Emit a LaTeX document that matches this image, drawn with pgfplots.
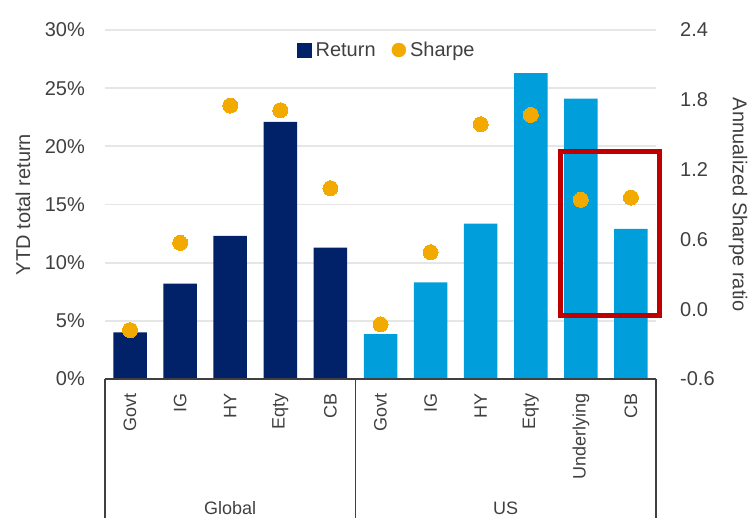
\documentclass[border=0pt]{standalone}
\usepackage{fontspec}
\setmainfont{Liberation Sans}
\usepackage{pgfplots}
\pgfplotsset{compat=1.18}
\definecolor{navy}{HTML}{012169}
\definecolor{lblue}{HTML}{009EDB}
\definecolor{gold}{HTML}{F2A900}
\definecolor{boxred}{HTML}{C00000}
\definecolor{txt}{HTML}{404040}
\definecolor{gridc}{HTML}{E6E6E6}
\newcommand{\fA}{\fontsize{20pt}{24pt}\selectfont}
\newcommand{\fB}{\fontsize{18pt}{22pt}\selectfont}
\begin{document}
\begin{tikzpicture}
\useasboundingbox (0pt,0pt) rectangle (750pt,518pt);
\begin{axis}[
  at={(105pt,139pt)}, anchor=south west,
  scale only axis, width=551pt, height=349pt,
  xmin=-0.5, xmax=10.5, ymin=0, ymax=30,
  axis line style={draw=none},
  major tick length=0pt,
  clip=false,
  /pgf/number format/assume math mode=true,
  ytick={0,5,10,15,20,25,30},
  yticklabel={\pgfmathprintnumber{\tick}\%},
  yticklabel style={anchor=east, inner sep=0pt, xshift=-20pt, font=\fA, text=txt},
  ymajorgrids, grid style={gridc, line width=1.8pt},
  xtick={0,1,2,3,4,5,6,7,8,9,10},
  xticklabels={Govt,IG,HY,Eqty,CB,Govt,IG,HY,Eqty,Underlying,CB},
  xticklabel style={rotate=90, anchor=east, inner xsep=0pt, inner ysep=0pt, xshift=-14pt, font=\fB, text=txt},
  ylabel={YTD total return},
  ylabel style={at={(axis description cs:-0.1488,0.5)}, anchor=center, font=\fA, text=txt},
  legend columns=2,
  legend style={at={(axis description cs:0.3485,0.9427)}, anchor=west, draw=none, fill=none,
    inner sep=0pt, font=\fA, text=txt,
    nodes={inner xsep=4pt, inner ysep=0pt},
    /tikz/every even column/.append style={column sep=12pt}},
]
\addplot[ybar, bar width=33.5pt, bar shift=0pt, fill=navy, draw=none, forget plot]
  coordinates {(0,4.0) (1,8.2) (2,12.3) (3,22.1) (4,11.3)};
\addplot[ybar, bar width=33.5pt, bar shift=0pt, fill=lblue, draw=none, forget plot]
  coordinates {(5,3.85) (6,8.3) (7,13.35) (8,26.3) (9,24.1) (10,12.9)};
\addlegendimage{legend image code/.code={\fill[navy] (0pt,-7pt) rectangle (14pt,7pt);}}
\addlegendentry{Return}
\addlegendimage{legend image code/.code={\fill[gold] (7pt,0pt) circle (7pt);}}
\addlegendentry{Sharpe}
\draw[txt, line width=1.5pt] (axis cs:-0.5,0) -- (axis cs:10.5,0);
\draw[txt, line width=1.3pt] (axis cs:-0.5,0) -- (axis cs:-0.5,-13);
\draw[txt, line width=1.3pt] (axis cs:4.5,0) -- (axis cs:4.5,-13);
\draw[txt, line width=1.3pt] (axis cs:10.5,0) -- (axis cs:10.5,-13);
\node[font=\fB, text=txt, anchor=base] at (axis cs:2,-11.69) {Global};
\node[font=\fB, text=txt, anchor=base] at (axis cs:7.5,-11.69) {US};
\end{axis}
\begin{axis}[
  at={(105pt,139pt)}, anchor=south west,
  scale only axis, width=551pt, height=349pt,
  xmin=-0.5, xmax=10.5, ymin=-0.6, ymax=2.4,
  axis x line=none, axis y line*=right,
  axis line style={draw=none},
  major tick length=0pt,
  clip=false,
  /pgf/number format/assume math mode=true,
  ytick={-0.6,0,0.6,1.2,1.8,2.4},
  yticklabel style={anchor=west, inner sep=0pt, xshift=24pt, font=\fA, text=txt,
    /pgf/number format/fixed, /pgf/number format/fixed zerofill, /pgf/number format/precision=1},
  ylabel={Annualized Sharpe ratio},
  ylabel style={at={(axis description cs:1.1488,0.5)}, anchor=center, rotate=180, font=\fA, text=txt},
]
\addplot[only marks, color=gold, mark=*, mark size=7.5pt, mark options={fill=gold, draw=gold, line width=0pt}]
  coordinates {(0,-0.18) (1,0.57) (2,1.75) (3,1.71) (4,1.04)
               (5,-0.13) (6,0.49) (7,1.59) (8,1.67) (9,0.94) (10,0.96)};
\draw[boxred, line width=5pt] (axis cs:8.59,-0.057) rectangle (axis cs:10.564,1.356);
\end{axis}
\end{tikzpicture}
\end{document}
